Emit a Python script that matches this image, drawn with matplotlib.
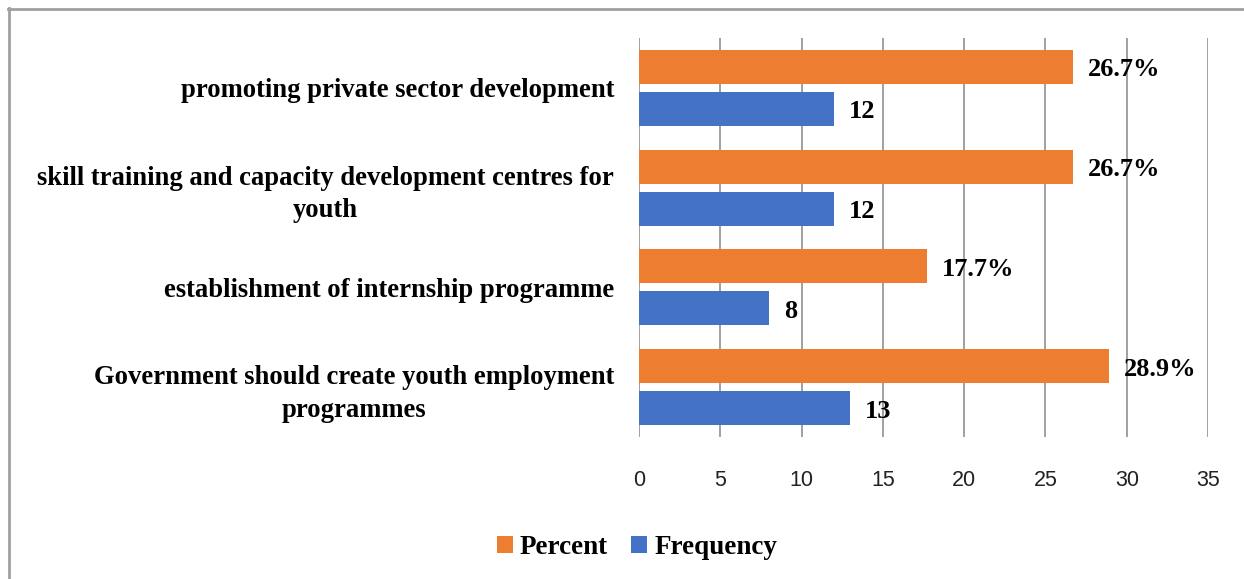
import numpy as np
import matplotlib.pyplot as plt
from matplotlib.lines import Line2D

# datos (de abajo hacia arriba)
categorias = [
    "Government should create youth employment\nprogrammes",
    "establishment of internship programme",
    "skill training and capacity development centres for\nyouth",
    "promoting private sector development",
]
porcentaje = [28.9, 17.7, 26.7, 26.7]
frecuencia = [13, 8, 12, 12]

naranja = "#ED7D31"
azul = "#4472C4"
serif = "Liberation Serif"

fig = plt.figure(figsize=(12.44, 5.79), dpi=100)
ax = fig.add_axes([0.5137, 0.2453, 0.9711 - 0.5137, 0.6891])

y = np.arange(len(categorias))
alto = 0.34
ax.barh(y + 0.21, porcentaje, height=alto, color=naranja, label="Percent", zorder=3)
ax.barh(y - 0.21, frecuencia, height=alto, color=azul, label="Frequency", zorder=3)

# etiquetas de valor
for yi, p, f in zip(y, porcentaje, frecuencia):
    ax.text(p + 0.9, yi + 0.18, f"{p}%", va="center", ha="left",
            fontfamily=serif, fontweight="bold", fontsize=19, zorder=4)
    ax.text(f + 0.9, yi - 0.24, f"{f}", va="center", ha="left",
            fontfamily=serif, fontweight="bold", fontsize=19, zorder=4)

ax.set_xlim(0, 35)
ax.set_ylim(-0.5, len(categorias) - 0.5)
ax.set_xticks(range(0, 36, 5))
ax.set_yticks(y)
ax.set_yticklabels(categorias, fontfamily=serif, fontweight="bold", fontsize=19.2,
                   multialignment="center", linespacing=1.4)
ax.tick_params(axis="y", length=0, pad=18)
ax.tick_params(axis="x", length=0, pad=24, labelsize=15.5)
for t in ax.get_xticklabels():
    t.set_fontfamily("Liberation Sans")
    t.set_color("#222222")

ax.grid(axis="x", color="#a0a0a0", linewidth=1.4, zorder=0)
for s in ax.spines.values():
    s.set_visible(False)

leg = fig.legend(loc="lower center", bbox_to_anchor=(0.512, -0.01), ncol=2, frameon=False,
                 prop={"family": serif, "weight": "bold", "size": 19.5},
                 handlelength=0.6, handleheight=0.6, handletextpad=0.25, columnspacing=0.85)

# marco del grafico (solo arriba e izquierda)
fig.add_artist(Line2D([8 / 1244, 1], [1 - 9 / 579, 1 - 9 / 579], transform=fig.transFigure,
                      color="#a0a0a0", linewidth=2))
fig.add_artist(Line2D([9 / 1244, 9 / 1244], [0, 1 - 8 / 579], transform=fig.transFigure,
                      color="#a0a0a0", linewidth=2))

fig.savefig("out.png", dpi=100)
